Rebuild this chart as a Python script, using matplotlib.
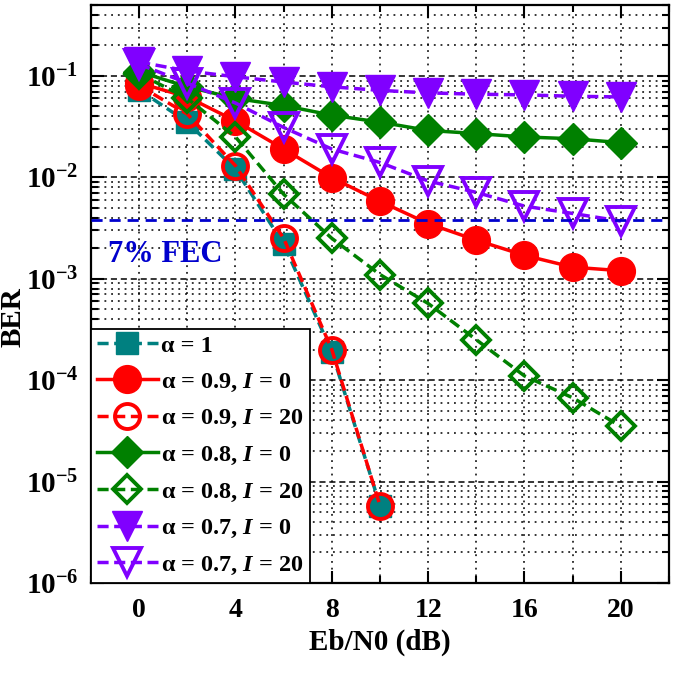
import matplotlib
matplotlib.use("Agg")
from matplotlib import pyplot as plt
from matplotlib.ticker import LogLocator, MultipleLocator, NullFormatter
import numpy as np

plt.rcParams["font.family"] = ["Liberation Serif", "DejaVu Serif"]
plt.rcParams["font.weight"] = "bold"
plt.rcParams["mathtext.fontset"] = "custom"
plt.rcParams["mathtext.rm"] = "Liberation Serif:bold"
plt.rcParams["mathtext.it"] = "Liberation Serif:italic:bold"
plt.rcParams["mathtext.bf"] = "Liberation Serif:bold"

ebn0 = [0, 2, 4, 6, 8, 10, 12, 14, 16, 18, 20]
ebn0_short = [0, 2, 4, 6, 8, 10]

ber_a1 = [0.073, 0.035, 0.012, 0.0022, 1.9e-4, 5.8e-6]
ber_a09_i0 = [0.085, 0.062, 0.036, 0.019, 0.0099, 0.0058, 0.0035, 0.0024, 0.0017, 0.0013, 0.0012]
ber_a09_i20 = [0.08, 0.042, 0.013, 0.0025, 2.0e-4, 5.8e-6]
ber_a08_i0 = [0.11, 0.078, 0.06, 0.051, 0.041, 0.035, 0.029, 0.027, 0.025, 0.024, 0.022]
ber_a08_i20 = [0.105, 0.06, 0.025, 0.0068, 0.0025, 0.0011, 5.7e-4, 2.5e-4, 1.1e-4, 6.7e-5, 3.5e-5]
ber_a07_i0 = [0.137, 0.112, 0.098, 0.087, 0.078, 0.072, 0.068, 0.066, 0.065, 0.063, 0.062]
ber_a07_i20 = [0.13, 0.085, 0.054, 0.031, 0.019, 0.014, 0.0092, 0.0071, 0.0052, 0.0044, 0.0037]

fec_limit = 3.8e-3

teal = "#008080"
red = "#ff0000"
green = "#008000"
purple = "#8000ff"
fec_blue = "#0000cd"

fig = plt.figure(figsize=(6.75, 6.77), dpi=100)
ax = fig.add_axes([0.1348, 0.1389, 0.9911 - 0.1348, 0.9926 - 0.1389])

dash = (0, (3.2, 1.6))
lw = 2.5

ax.plot(ebn0_short, ber_a1, color=teal, ls=dash, lw=lw, marker="s", ms=16,
        mfc=teal, mec=teal, label="α = 1")
ax.plot(ebn0, ber_a09_i0, color=red, ls="-", lw=lw, marker="o", ms=20,
        mfc=red, mec=red, label=r"α = 0.9, $I$ = 0")
ax.plot(ebn0_short, ber_a09_i20, color=red, ls=dash, lw=lw, marker="o", ms=18,
        mfc="none", mec=red, mew=2.8, label=r"α = 0.9, $I$ = 20")
ax.plot(ebn0, ber_a08_i0, color=green, ls="-", lw=lw, marker="D", ms=16,
        mfc=green, mec=green, label=r"α = 0.8, $I$ = 0")
ax.plot(ebn0, ber_a08_i20, color=green, ls=dash, lw=lw, marker="D", ms=14,
        mfc="none", mec=green, mew=2.8, label=r"α = 0.8, $I$ = 20")
ax.plot(ebn0, ber_a07_i0, color=purple, ls=dash, lw=lw, marker="v", ms=22,
        mfc=purple, mec=purple, label=r"α = 0.7, $I$ = 0")
ax.plot(ebn0, ber_a07_i20, color=purple, ls=dash, lw=lw, marker="v", ms=20,
        mfc="none", mec=purple, mew=2.8, label=r"α = 0.7, $I$ = 20")

ax.axhline(fec_limit, color=fec_blue, ls=(0, (4, 2.5)), lw=2.0, zorder=5)
ax.text(-1.3, 1.75e-3, "7% FEC", color=fec_blue, fontsize=22,
        fontweight="bold", ha="left", va="center")

ax.set_yscale("log")
ax.set_xlim(-2, 22)
ax.set_ylim(1e-6, 0.5)

ax.xaxis.set_major_locator(MultipleLocator(4))
ax.xaxis.set_minor_locator(MultipleLocator(2))
ax.yaxis.set_major_locator(LogLocator(base=10, numticks=20))
ax.yaxis.set_minor_locator(LogLocator(base=10, subs=np.arange(2, 10), numticks=20))
ax.yaxis.set_minor_formatter(NullFormatter())

ax.tick_params(which="both", direction="in", top=True, right=True,
               labelsize=20, width=1.5)
ax.tick_params(which="major", length=9)
ax.tick_params(which="minor", length=5)
ax.tick_params(axis="x", which="major", pad=11)
ax.tick_params(axis="y", which="major", pad=9, labelsize=21)

ax.grid(True, which="major", axis="y", color="black", ls=(0, (4, 2.5)), lw=1.1)
ax.grid(True, which="minor", axis="y", color="black", ls=(0, (1.2, 3.2)), lw=1.1)
ax.grid(True, which="both", axis="x", color="black", ls=(0, (1.2, 3.2)), lw=1.1)
ax.set_axisbelow(True)

for sp in ax.spines.values():
    sp.set_linewidth(1.6)

ax.set_xlabel("Eb/N0 (dB)", fontsize=21, fontweight="bold", labelpad=4)
ax.set_ylabel("BER", fontsize=21, fontweight="bold")
ax.yaxis.label.set_verticalalignment("center")
ax.yaxis.set_label_coords(-0.135, 0.46)

leg = ax.legend(loc="lower left", fontsize=17.5, borderaxespad=0,
                fancybox=False, framealpha=1, edgecolor="black",
                handlelength=2.5, handletextpad=0.15, labelspacing=0.56,
                borderpad=0.25)
leg.get_frame().set_linewidth(1.3)
leg.set_zorder(10)

fig.savefig("out.png", dpi=100)
